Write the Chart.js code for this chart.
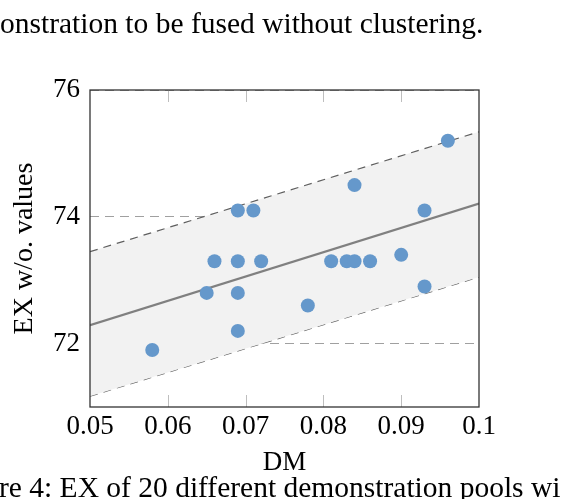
<!DOCTYPE html>
<html>
<head>
<meta charset="utf-8">
<script src="https://cdn.jsdelivr.net/npm/chart.js@4"></script>
<style>
  html, body { margin: 0; padding: 0; background: #fff; overflow: hidden; }
  #wrap { position: relative; width: 570px; height: 499px; }
  .txt { position: absolute; font-family: 'Liberation Serif', serif; font-size: 29.5px; line-height: 29.5px; color: #000; white-space: nowrap; }
</style>
</head>
<body>
<div id="wrap">
  <canvas id="dm-scatter" width="570" height="499"></canvas>
  <div class="txt" style="left:0px; top:9px;">onstration to be fused without clustering.</div>
  <div class="txt" style="left:-1px; top:473px;">re 4: EX of 20 different demonstration pools wi</div>
</div>
<script>
// data
const dmValues = [0.058, 0.065, 0.066, 0.069, 0.069, 0.069, 0.069, 0.071, 0.072, 0.078, 0.081, 0.083, 0.084, 0.084, 0.086, 0.090, 0.093, 0.093, 0.096];
const exValues = [71.9, 72.8, 73.3, 74.1, 73.3, 72.8, 72.2, 74.1, 73.3, 72.6, 73.3, 73.3, 73.3, 74.5, 73.3, 73.4, 74.1, 72.9, 75.2];

// fit line and band, at the two ends of the x range
const fitX = [0.05, 0.1];
const fitY = [72.29, 74.21];
const upperY = [73.45, 75.34];
const lowerY = [71.17, 73.05];

const xTicks = [0.05, 0.06, 0.07, 0.08, 0.09, 0.1];
const yTicks = [72, 74, 76];

function pairs(xs, ys) {
    return xs.map((x, i) => ({ x: x, y: ys[i] }));
}

const serif = 'Liberation Serif';

// inner ticks on top/bottom and the full frame
const framePlugin = {
    id: 'frame',
    afterDatasetsDraw(chart) {
        const ctx = chart.ctx;
        const a = chart.chartArea;
        const xs = chart.scales.x;
        ctx.save();
        ctx.strokeStyle = 'rgb(190,190,190)';
        ctx.lineWidth = 1;
        xs.ticks.forEach(t => {
            const px = Math.round(xs.getPixelForValue(t.value)) + 0.5;
            if (px < a.left + 2 || px > a.right - 2) return;
            ctx.beginPath();
            ctx.moveTo(px, a.top);
            ctx.lineTo(px, a.top + 12);
            ctx.moveTo(px, a.bottom);
            ctx.lineTo(px, a.bottom - 12);
            ctx.stroke();
        });
        ctx.strokeStyle = '#333';
        ctx.lineWidth = 1.3;
        ctx.strokeRect(a.left, a.top, a.right - a.left, a.bottom - a.top);
        ctx.restore();
    }
};

const DmScatter = document.getElementById('dm-scatter');
const DmChart = new Chart(DmScatter, {
    type: 'scatter',
    data: {
        datasets: [{
            label: 'pools',
            data: pairs(dmValues, exValues),
            backgroundColor: 'rgb(101,152,203)',
            borderWidth: 0,
            pointRadius: 7,
            order: 0
        }, {
            label: 'fit',
            type: 'line',
            data: pairs(fitX, fitY),
            borderColor: 'rgb(128,128,128)',
            borderWidth: 2.2,
            pointRadius: 0,
            fill: false,
            order: 1
        }, {
            label: 'upper',
            type: 'line',
            data: pairs(fitX, upperY),
            borderColor: 'rgb(95,95,95)',
            borderWidth: 1.2,
            borderDash: [8, 6],
            pointRadius: 0,
            backgroundColor: 'rgb(242,242,242)',
            fill: '+1',
            order: 2
        }, {
            label: 'lower',
            type: 'line',
            data: pairs(fitX, lowerY),
            borderColor: 'rgb(95,95,95)',
            borderWidth: 1.2,
            borderDash: [8, 6],
            pointRadius: 0,
            fill: false,
            order: 3
        }]
    },
    options: {
        responsive: false,
        animation: false,
        events: [],
        layout: {
            padding: { left: 0, top: 90, right: 91, bottom: 0 }
        },
        plugins: {
            legend: { display: false },
            tooltip: { enabled: false }
        },
        scales: {
            x: {
                type: 'linear',
                min: 0.05,
                max: 0.1,
                afterBuildTicks: s => { s.ticks = xTicks.map(v => ({ value: v })); },
                afterFit: s => { s.height = 92; },
                grid: { display: false, drawTicks: false },
                border: { display: false },
                ticks: {
                    color: '#000',
                    padding: 4,
                    font: { family: serif, size: 27 },
                    callback: v => String(+v.toFixed(2))
                },
                title: {
                    display: true,
                    text: 'DM',
                    color: '#000',
                    font: { family: serif, size: 27 },
                    padding: { top: 0, bottom: 20 }
                }
            },
            y: {
                type: 'linear',
                min: 71,
                max: 76,
                afterBuildTicks: s => { s.ticks = yTicks.map(v => ({ value: v })); },
                afterFit: s => { s.width = 90; },
                grid: {
                    color: 'rgb(160,160,160)',
                    lineWidth: 1,
                    drawTicks: false
                },
                border: { display: false, dash: [9, 6] },
                ticks: {
                    color: '#000',
                    padding: 10,
                    font: { family: serif, size: 27 }
                },
                title: {
                    display: true,
                    text: 'EX w/o. values',
                    color: '#000',
                    font: { family: serif, size: 28 },
                    padding: { top: 8, bottom: 0 }
                }
            }
        }
    },
    plugins: [framePlugin]
});
</script>
</body>
</html>
